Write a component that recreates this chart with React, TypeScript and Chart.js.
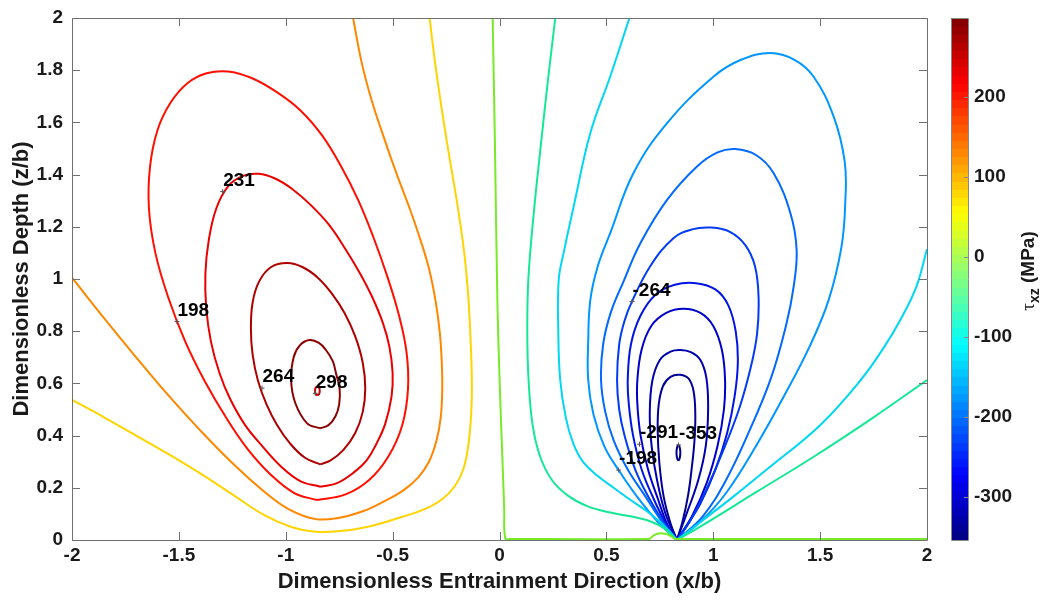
import React, { useEffect, useRef } from 'react';
import { Chart, registerables } from 'chart.js';
Chart.register(...registerables);

// ---------- axes / ticks ----------
const xTicks = [-2, -1.5, -1, -0.5, 0, 0.5, 1, 1.5, 2];
const yTicks = [0, 0.2, 0.4, 0.6, 0.8, 1, 1.2, 1.4, 1.6, 1.8, 2];
const cbTicks = [-300, -200, -100, 0, 100, 200];
const cbMin = -353.4;
const cbMax = 298.8;

// ---------- contour lines (x/b, z/b) ----------
const posTiny = [[-0.852,0.554],[-0.844,0.559],[-0.841,0.571],[-0.844,0.583],[-0.852,0.588],[-0.860,0.583],[-0.863,0.571],[-0.860,0.559],[-0.852,0.554]];
const posA = [[-0.840,0.428],[-0.900,0.447],[-0.955,0.524],[-0.975,0.613],[-0.963,0.700],[-0.935,0.745],[-0.890,0.766],[-0.845,0.755],[-0.812,0.728],[-0.780,0.685],[-0.765,0.639],[-0.748,0.58],[-0.750,0.52],[-0.768,0.473],[-0.800,0.44],[-0.840,0.428]];
const posB = [[-0.838,0.29],[-0.91,0.315],[-0.98,0.37],[-1.04,0.44],[-1.09,0.52],[-1.13,0.61],[-1.155,0.71],[-1.163,0.81],[-1.155,0.91],[-1.125,0.99],[-1.07,1.045],[-0.994,1.061],[-0.92,1.045],[-0.85,1.005],[-0.785,0.945],[-0.725,0.87],[-0.675,0.78],[-0.64,0.68],[-0.628,0.58],[-0.64,0.49],[-0.675,0.41],[-0.73,0.345],[-0.79,0.305],[-0.838,0.29]];
const posC = [[-0.838,0.204],[-0.93,0.225],[-1.02,0.28],[-1.11,0.36],[-1.19,0.44],[-1.26,0.54],[-1.31,0.64],[-1.35,0.76],[-1.372,0.89],[-1.376,1.02],[-1.36,1.15],[-1.325,1.27],[-1.27,1.355],[-1.20,1.395],[-1.127,1.403],[-1.05,1.385],[-0.97,1.345],[-0.885,1.285],[-0.80,1.21],[-0.725,1.12],[-0.655,1.025],[-0.595,0.93],[-0.545,0.83],[-0.515,0.74],[-0.50,0.64],[-0.505,0.55],[-0.534,0.447],[-0.575,0.37],[-0.62,0.307],[-0.68,0.26],[-0.76,0.218],[-0.838,0.204]];
const posD = [[-0.854,0.153],[-0.96,0.18],[-1.07,0.25],[-1.18,0.35],[-1.28,0.47],[-1.38,0.61],[-1.47,0.76],[-1.55,0.93],[-1.61,1.10],[-1.64,1.27],[-1.635,1.43],[-1.60,1.57],[-1.54,1.674],[-1.46,1.75],[-1.37,1.788],[-1.27,1.795],[-1.16,1.77],[-1.04,1.715],[-0.93,1.645],[-0.83,1.55],[-0.74,1.43],[-0.66,1.30],[-0.59,1.16],[-0.525,1.01],[-0.47,0.86],[-0.435,0.72],[-0.428,0.58],[-0.455,0.44],[-0.52,0.32],[-0.61,0.23],[-0.72,0.175],[-0.854,0.153]];
const posOrange = [[-2,1.005],[-1.85,0.85],[-1.70,0.70],[-1.55,0.555],[-1.40,0.42],[-1.25,0.295],[-1.10,0.185],[-0.98,0.115],[-0.86,0.08],[-0.75,0.085],[-0.64,0.11],[-0.54,0.148],[-0.45,0.19],[-0.38,0.24],[-0.33,0.30],[-0.295,0.38],[-0.275,0.47],[-0.268,0.57],[-0.27,0.68],[-0.28,0.80],[-0.30,0.92],[-0.33,1.04],[-0.37,1.15],[-0.42,1.27],[-0.48,1.40],[-0.54,1.54],[-0.60,1.69],[-0.645,1.83],[-0.685,2.0]];
const posYellow = [[-2,0.537],[-1.85,0.47],[-1.70,0.40],[-1.55,0.33],[-1.40,0.255],[-1.25,0.175],[-1.10,0.095],[-0.98,0.052],[-0.86,0.032],[-0.72,0.036],[-0.58,0.058],[-0.45,0.09],[-0.35,0.118],[-0.27,0.155],[-0.21,0.205],[-0.17,0.27],[-0.15,0.34],[-0.137,0.43],[-0.13,0.53],[-0.13,0.64],[-0.135,0.76],[-0.145,0.92],[-0.165,1.10],[-0.20,1.30],[-0.235,1.47],[-0.27,1.65],[-0.30,1.82],[-0.327,2.0]];
const zeroLine = [[-0.032,2.0],[-0.021,1.5],[-0.01,0.92],[0.001,0.6],[0.012,0.345],[0.022,0.12],[0.027,0.006],[0.05,0.004],[0.70,0.004],[0.71,0.01],[0.72,0.017],[0.735,0.023],[0.755,0.026],[0.775,0.024],[0.795,0.018],[0.81,0.01],[0.82,0.005],[0.83,0.004],[2.0,0.004]];
const negG1Left = [[0.261,2.0],[0.225,1.75],[0.191,1.495],[0.16,1.25],[0.135,1.0],[0.13,0.8],[0.136,0.613],[0.155,0.44],[0.19,0.32],[0.245,0.23],[0.32,0.17],[0.41,0.13],[0.52,0.105],[0.63,0.088],[0.71,0.07],[0.77,0.045],[0.83,0]];
const negG1Right = [[0.83,0],[0.939,0.051],[1.204,0.185],[1.47,0.319],[1.75,0.47],[2.0,0.613]];
const negCLeft = [[0.608,2.0],[0.518,1.776],[0.425,1.559],[0.347,1.278],[0.30,1.10],[0.277,0.997],[0.275,0.80],[0.284,0.613],[0.31,0.47],[0.345,0.37],[0.39,0.30],[0.46,0.245],[0.534,0.2],[0.61,0.155],[0.69,0.11],[0.75,0.07],[0.79,0.038],[0.83,0]];
const negCRight = [[0.83,0],[0.95,0.075],[1.10,0.17],[1.25,0.27],[1.5,0.44],[1.69,0.613],[1.80,0.74],[1.875,0.843],[1.95,0.97],[2.0,1.115]];
const negL1 = [[0.83,0],[0.74,0.07],[0.64,0.17],[0.557,0.268],[0.49,0.36],[0.44,0.48],[0.415,0.613],[0.415,0.76],[0.425,0.92],[0.46,1.05],[0.518,1.176],[0.627,1.406],[0.784,1.597],[1.002,1.776],[1.13,1.84],[1.267,1.866],[1.38,1.84],[1.469,1.776],[1.563,1.623],[1.615,1.45],[1.618,1.30],[1.60,1.124],[1.54,0.92],[1.45,0.74],[1.33,0.55],[1.20,0.36],[1.06,0.18],[0.94,0.07],[0.83,0]];
const negL2 = [[0.83,0],[0.76,0.07],[0.68,0.17],[0.60,0.27],[0.535,0.38],[0.495,0.49],[0.475,0.613],[0.485,0.75],[0.52,0.87],[0.58,0.99],[0.659,1.137],[0.784,1.303],[0.924,1.431],[1.02,1.485],[1.103,1.498],[1.20,1.475],[1.282,1.406],[1.361,1.252],[1.39,1.112],[1.376,0.97],[1.34,0.82],[1.27,0.62],[1.17,0.42],[1.06,0.23],[0.95,0.09],[0.83,0]];
const negL3 = [[0.83,0],[0.77,0.065],[0.70,0.16],[0.635,0.27],[0.585,0.40],[0.56,0.50],[0.55,0.613],[0.56,0.75],[0.585,0.84],[0.62,0.914],[0.706,1.05],[0.815,1.157],[0.90,1.19],[0.99,1.197],[1.08,1.18],[1.15,1.13],[1.195,1.05],[1.212,0.93],[1.205,0.79],[1.175,0.66],[1.12,0.50],[1.045,0.34],[0.96,0.18],[0.89,0.07],[0.83,0]];
const negL4 = [[0.83,0],[0.78,0.06],[0.72,0.16],[0.665,0.27],[0.625,0.40],[0.605,0.52],[0.60,0.613],[0.615,0.75],[0.66,0.86],[0.73,0.94],[0.82,0.978],[0.92,0.984],[1.01,0.96],[1.07,0.90],[1.105,0.80],[1.115,0.68],[1.10,0.55],[1.065,0.41],[1.01,0.27],[0.94,0.14],[0.88,0.06],[0.83,0]];
const negL5 = [[0.83,0],[0.785,0.06],[0.74,0.16],[0.695,0.27],[0.66,0.40],[0.645,0.52],[0.645,0.613],[0.665,0.73],[0.71,0.82],[0.78,0.87],[0.86,0.886],[0.94,0.87],[1.00,0.82],[1.04,0.73],[1.055,0.62],[1.05,0.50],[1.02,0.36],[0.97,0.22],[0.90,0.09],[0.83,0]];
const negL6 = [[0.83,0],[0.776,0.102],[0.737,0.23],[0.712,0.358],[0.703,0.486],[0.715,0.61],[0.75,0.69],[0.80,0.722],[0.846,0.728],[0.895,0.72],[0.94,0.69],[0.968,0.62],[0.976,0.50],[0.965,0.36],[0.93,0.23],[0.875,0.10],[0.83,0]];
const negL7 = [[0.83,0],[0.80,0.064],[0.768,0.166],[0.748,0.294],[0.740,0.422],[0.745,0.52],[0.765,0.59],[0.80,0.625],[0.845,0.633],[0.885,0.618],[0.908,0.57],[0.916,0.48],[0.912,0.38],[0.90,0.28],[0.882,0.17],[0.856,0.07],[0.83,0]];
const negTiny = [[0.837,0.304],[0.843,0.313],[0.846,0.334],[0.843,0.355],[0.837,0.364],[0.831,0.355],[0.828,0.334],[0.831,0.313],[0.837,0.304]];

// ---------- contour labels ----------
const labelTexts = ['231', '198', '264', '298', '-264', '-291', '-353', '-198'];
const labelX = [-1.295, -1.509, -1.111, -0.862, 0.620, 0.655, 0.838, 0.557];
const labelY = [1.335, 0.837, 0.582, 0.562, 0.914, 0.367, 0.364, 0.268];

const FONT = "'Liberation Sans', Arial, Helvetica, sans-serif";

function jet(t: number): string {
  const c = (v: number) => Math.round(255 * Math.max(0, Math.min(1, v)));
  return `rgb(${c(1.5 - Math.abs(4 * t - 3))},${c(1.5 - Math.abs(4 * t - 2))},${c(1.5 - Math.abs(4 * t - 1))})`;
}

const lines: [number[][], string][] = [
  [zeroLine, 'rgb(120,235,40)'],
  [posYellow, 'rgb(255,212,0)'],
  [posOrange, 'rgb(255,135,0)'],
  [posD, 'rgb(255,15,0)'],
  [posC, 'rgb(235,0,0)'],
  [posB, 'rgb(175,0,0)'],
  [posA, 'rgb(140,0,0)'],
  [posTiny, 'rgb(200,0,0)'],
  [negG1Left, 'rgb(20,232,150)'],
  [negG1Right, 'rgb(20,232,150)'],
  [negCLeft, 'rgb(0,215,245)'],
  [negCRight, 'rgb(0,215,245)'],
  [negL1, 'rgb(0,150,255)'],
  [negL2, 'rgb(0,105,255)'],
  [negL3, 'rgb(0,60,245)'],
  [negL4, 'rgb(0,20,230)'],
  [negL5, 'rgb(0,0,205)'],
  [negL6, 'rgb(0,0,175)'],
  [negL7, 'rgb(0,0,150)'],
  [negTiny, 'rgb(0,0,140)'],
];

const overlay = {
  id: 'overlay',
  afterDatasetsDraw(chart: any) {
    const ctx = chart.ctx;
    const { left, right, top, bottom } = chart.chartArea;
    const xs = chart.scales.x;
    const ys = chart.scales.y;
    const cb = chart.scales.cb;
    ctx.save();
    // contour labels
    ctx.font = `bold 19px ${FONT}`;
    ctx.textAlign = 'left';
    ctx.textBaseline = 'middle';
    labelTexts.forEach((t, i) => {
      const px = xs.getPixelForValue(labelX[i]);
      const py = ys.getPixelForValue(labelY[i]);
      ctx.strokeStyle = '#555';
      ctx.lineWidth = 1;
      ctx.beginPath();
      ctx.moveTo(px - 2.5, py); ctx.lineTo(px + 2.5, py);
      ctx.moveTo(px, py - 2.5); ctx.lineTo(px, py + 2.5);
      ctx.stroke();
      ctx.fillStyle = '#000';
      ctx.fillText(t, px + 0.5, py - 11);
    });
    // axes box + inward ticks
    ctx.strokeStyle = '#707070';
    ctx.lineWidth = 1;
    ctx.beginPath();
    ctx.rect(Math.round(left) + 0.5, Math.round(top) + 0.5, Math.round(right - left), Math.round(bottom - top));
    xTicks.forEach((v) => {
      const p = Math.round(xs.getPixelForValue(v)) + 0.5;
      ctx.moveTo(p, bottom); ctx.lineTo(p, bottom - 8);
      ctx.moveTo(p, top); ctx.lineTo(p, top + 8);
    });
    yTicks.forEach((v) => {
      const p = Math.round(ys.getPixelForValue(v)) + 0.5;
      ctx.moveTo(left, p); ctx.lineTo(left + 8, p);
      ctx.moveTo(right, p); ctx.lineTo(right - 8, p);
    });
    ctx.stroke();
    // colorbar
    const bx0 = Math.round(right) + 24;
    const bw = 17;
    const n = 64;
    for (let i = 0; i < n; i++) {
      const v0 = cbMin + (i * (cbMax - cbMin)) / n;
      const v1 = cbMin + ((i + 1) * (cbMax - cbMin)) / n;
      const y0 = cb.getPixelForValue(v0);
      const y1 = cb.getPixelForValue(v1);
      ctx.fillStyle = jet((i + 0.5) / n);
      ctx.fillRect(bx0, Math.floor(y1), bw, Math.ceil(y0) - Math.floor(y1));
    }
    ctx.strokeStyle = '#8a8a8a';
    ctx.beginPath();
    ctx.rect(bx0 + 0.5, Math.round(cb.getPixelForValue(cbMax)) + 0.5, bw, Math.round(cb.getPixelForValue(cbMin) - cb.getPixelForValue(cbMax)));
    cbTicks.forEach((v) => {
      const p = Math.round(cb.getPixelForValue(v)) + 0.5;
      ctx.moveTo(bx0 + bw, p); ctx.lineTo(bx0 + bw - 4, p);
    });
    ctx.stroke();
    // colorbar title  tau_xz (MPa)
    ctx.translate(1028, 271);
    ctx.rotate(-Math.PI / 2);
    ctx.fillStyle = '#1a1a1a';
    ctx.textBaseline = 'alphabetic';
    const tauFont = `19px 'Liberation Serif', 'DejaVu Serif', serif`;
    const subFont = `bold 14px ${FONT}`;
    const mainFont = `bold 19px ${FONT}`;
    ctx.font = tauFont; const wT = ctx.measureText('τ').width;
    ctx.font = subFont; const wS = ctx.measureText('xz').width;
    ctx.font = mainFont; const wM = ctx.measureText(' (MPa)').width;
    let cx = -(wT + wS + wM) / 2;
    ctx.font = tauFont; ctx.fillText('τ', cx, 6); cx += wT;
    ctx.font = subFont; ctx.fillText('xz', cx, 11); cx += wS;
    ctx.font = mainFont; ctx.fillText(' (MPa)', cx, 6);
    ctx.restore();
  },
};

export default function App() {
  const ref = useRef<HTMLCanvasElement>(null);
  useEffect(() => {
    if (!ref.current) return;
    const tickFont = { family: FONT, size: 19, weight: 'bold' as const };
    const titleFont = { family: FONT, size: 22, weight: 'bold' as const };
    const hiddenTicks = (len: number) => ({ display: true, drawOnChartArea: false, drawTicks: true, tickLength: len, color: 'rgba(0,0,0,0)' });
    const chart = new Chart(ref.current, {
      type: 'scatter',
      data: {
        datasets: lines.map(([pts, color]) => ({
          data: pts.map(([x, y]) => ({ x, y })),
          borderColor: color,
          backgroundColor: color,
          borderWidth: 2,
          pointRadius: 0,
          showLine: true,
          fill: false,
          tension: 0.4,
        })),
      },
      options: {
        animation: false,
        responsive: false,
        events: [],
        layout: { padding: { top: 18, left: 0, right: 0, bottom: 0 } },
        plugins: { legend: { display: false }, tooltip: { enabled: false } },
        scales: {
          x: {
            type: 'linear', position: 'bottom', min: -2, max: 2,
            afterBuildTicks: (s: any) => { s.ticks = xTicks.map((v) => ({ value: v })); },
            afterFit: (s: any) => { s.height = 63; },
            grid: hiddenTicks(3),
            border: { display: false },
            ticks: { font: tickFont, color: '#1a1a1a', padding: 1, maxRotation: 0, autoSkip: false, callback: (v: any) => String(v) },
            title: { display: true, text: 'Dimensionless Entrainment Direction (x/b)', font: titleFont, color: '#1a1a1a', padding: { top: 0, bottom: 8 } },
          },
          y: {
            type: 'linear', position: 'left', min: 0, max: 2,
            afterBuildTicks: (s: any) => { s.ticks = yTicks.map((v) => ({ value: v })); },
            afterFit: (s: any) => { s.width = 72; },
            grid: hiddenTicks(7),
            border: { display: false },
            ticks: { font: tickFont, color: '#1a1a1a', padding: 2, autoSkip: false, callback: (v: any) => String(v) },
            title: { display: true, text: 'Dimensionless Depth (z/b)', font: titleFont, color: '#1a1a1a', padding: { top: 9, bottom: 0 } },
          },
          cb: {
            type: 'linear', position: 'right', min: cbMin, max: cbMax,
            afterBuildTicks: (s: any) => { s.ticks = cbTicks.map((v) => ({ value: v })); },
            afterFit: (s: any) => { s.width = 114; },
            grid: hiddenTicks(44),
            border: { display: false },
            ticks: { font: tickFont, color: '#1a1a1a', padding: 3, autoSkip: false, callback: (v: any) => String(v) },
          },
        },
      } as any,
      plugins: [overlay],
    });
    return () => chart.destroy();
  }, []);
  return (
    <div style={{ position: 'fixed', left: 0, top: 0, width: 1041, height: 603, background: '#fff' }}>
      <canvas ref={ref} width={1041} height={603} style={{ width: 1041, height: 603, display: 'block' }} />
    </div>
  );
}
